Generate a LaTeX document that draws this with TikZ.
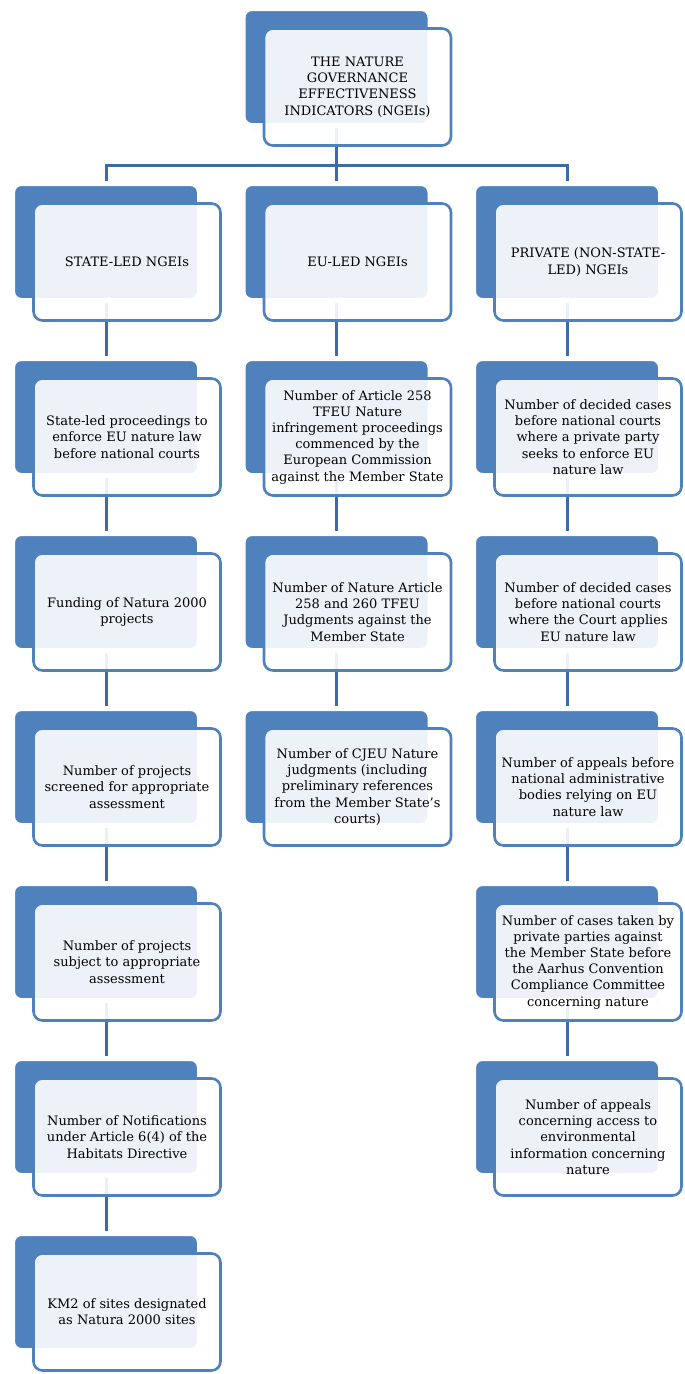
\documentclass[tikz,border=0pt]{standalone}
\usepackage{fontspec}
\setmainfont{DejaVu Serif}
\usepackage{xcolor}
\usepackage{tikz}
\usetikzlibrary{shadows}
\definecolor{ngblue}{RGB}{79,129,189}
\definecolor{ngline}{RGB}{62,106,168}
\tikzset{
  backbox/.style={draw=white, line width=5pt, rounded corners=9pt, fill=ngblue,
                  minimum width=187pt, minimum height=117pt,
                  drop shadow={shadow xshift=2pt, shadow yshift=-2.5pt, opacity=0.25, fill=black}},
  frontbox/.style={draw=ngblue, line width=2.6pt, rounded corners=9pt, fill=white, fill opacity=0.9,
                   text opacity=1, minimum width=187pt, minimum height=117pt, align=center,
                   font=\fontsize{13}{16.2}\selectfont, text=black},
  conn/.style={draw=ngline, line width=3pt},
}
% back panel + front card
\newcommand{\ngei}[4]{%
  \node[backbox] (#1) at (#2,#3) {};
  \node[frontbox] (#1f) at ([shift={(21,-20)}]#1.center) {#4};
}

\begin{document}
\begin{tikzpicture}[x=1pt, y=1pt]
  \useasboundingbox (0,0) rectangle (685,-1374);
  \coordinate (bus) at (336.5,-165);
  \coordinate (topc) at (336.5,-67);
  \coordinate (stc) at (106,-242);
  \coordinate (euc) at (336.5,-242);
  \coordinate (pvc) at (567,-242);
  % connectors, behind the cards
  \draw[conn] (topc) -- (bus) -| (stc);
  \draw[conn] (bus) -- (euc);
  \draw[conn] (bus) -| (pvc);
  \draw[conn] (stc) -- (106,-1292);
  \draw[conn] (euc) -- (336.5,-767);
  \draw[conn] (pvc) -- (567,-1117);

  \ngei{top}{336.5}{-67}{THE NATURE\\GOVERNANCE\\EFFECTIVENESS\\INDICATORS (NGEIs)}

  \ngei{st}{106}{-242}{STATE-LED NGEIs}
  \ngei{eu}{336.5}{-242}{EU-LED NGEIs}
  \ngei{pv}{567}{-242}{PRIVATE (NON-STATE-\\LED) NGEIs}

  % state-led column
  \ngei{st1}{106}{-417}{State-led proceedings to\\enforce EU nature law\\before national courts}
  \ngei{st2}{106}{-592}{Funding of Natura 2000\\projects}
  \ngei{st3}{106}{-767}{Number of projects\\screened for appropriate\\assessment}
  \ngei{st4}{106}{-942}{Number of projects\\subject to appropriate\\assessment}
  \ngei{st5}{106}{-1117}{Number of Notifications\\under Article 6(4) of the\\Habitats Directive}
  \ngei{st6}{106}{-1292}{KM2 of sites designated\\as Natura 2000 sites}

  % EU-led column
  \ngei{eu1}{336.5}{-417}{Number of Article 258\\TFEU Nature\\infringement proceedings\\commenced by the\\European Commission\\against the Member State}
  \ngei{eu2}{336.5}{-592}{Number of Nature Article\\258 and 260 TFEU\\Judgments against the\\Member State}
  \ngei{eu3}{336.5}{-767}{Number of CJEU Nature\\judgments (including\\preliminary references\\from the Member State's\\courts)}

  % private column
  \ngei{pv1}{567}{-417}{Number of decided cases\\before national courts\\where a private party\\seeks to enforce EU\\nature law}
  \ngei{pv2}{567}{-592}{Number of decided cases\\before national courts\\where the Court applies\\EU nature law}
  \ngei{pv3}{567}{-767}{Number of appeals before\\national administrative\\bodies relying on EU\\nature law}
  \ngei{pv4}{567}{-942}{Number of cases taken by\\private parties against\\the Member State before\\the Aarhus Convention\\Compliance Committee\\concerning nature}
  \ngei{pv5}{567}{-1117}{Number of appeals\\concerning access to\\environmental\\information concerning\\nature}
\end{tikzpicture}
\end{document}
